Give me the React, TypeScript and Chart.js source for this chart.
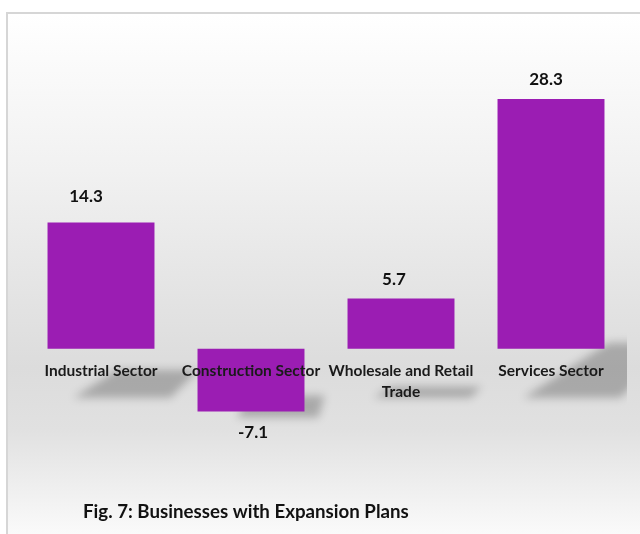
import React, { useEffect, useRef } from "react";
import { Chart, registerables } from "chart.js";

Chart.register(...registerables);

const categories: string[][] = [
  ["Industrial Sector"],
  ["Construction Sector"],
  ["Wholesale and Retail", "Trade"],
  ["Services Sector"],
];
const values: number[] = [14.3, -7.1, 5.7, 28.3];
const valueLabels: string[] = ["14.3", "-7.1", "5.7", "28.3"];
const chartTitle = "Fig. 7: Businesses with Expansion Plans";

const BAR_COLOR = "#9b1db3";
const FONT = "Lato, 'Noto Sans', sans-serif";

const decorPlugin = {
  id: "decor",
  beforeDraw(chart: any) {
    const ctx = chart.ctx as CanvasRenderingContext2D;
    const W = chart.width;
    const H = chart.height;
    ctx.save();
    ctx.fillStyle = "#ffffff";
    ctx.fillRect(0, 0, W, H);
    const g = ctx.createLinearGradient(0, 14, 0, H);
    g.addColorStop(0, "#ffffff");
    g.addColorStop(0.3, "#f1f1f1");
    g.addColorStop(0.68, "#dcdcdc");
    g.addColorStop(0.8, "#e1e1e1");
    g.addColorStop(1, "#fafafa");
    ctx.fillStyle = g;
    ctx.fillRect(7, 14, W - 7, H - 14);
    ctx.strokeStyle = "#d6d6d6";
    ctx.lineWidth = 2;
    ctx.beginPath();
    ctx.moveTo(7, H);
    ctx.lineTo(7, 13);
    ctx.lineTo(W, 13);
    ctx.stroke();
    ctx.restore();
  },
  beforeDatasetsDraw(chart: any) {
    const ctx = chart.ctx as CanvasRenderingContext2D;
    const meta = chart.getDatasetMeta(0);
    const zeroY = chart.scales.y.getPixelForValue(0);
    const area = chart.chartArea;
    ctx.save();
    ctx.beginPath();
    ctx.rect(8, 14, area.right + 1 - 8, chart.height - 14);
    ctx.clip();
    ctx.filter = "blur(4px)";
    ctx.fillStyle = "rgba(0,0,0,0.24)";
    meta.data.forEach((bar: any, i: number) => {
      const left = bar.x - bar.width / 2;
      const right = bar.x + bar.width / 2;
      const h = Math.abs(bar.base - bar.y);
      ctx.beginPath();
      if (values[i] >= 0) {
        const bottom = zeroY + 49;
        const sh = 0.22 * h;
        ctx.moveTo(left + 26, bottom);
        ctx.lineTo(right + 16, bottom);
        ctx.lineTo(right + 16 + sh, bottom - sh);
        ctx.lineTo(left + 26 + 1.55 * sh, bottom - sh);
      } else {
        const bb = Math.max(bar.y, bar.base);
        ctx.moveTo(left + 40, bb + 6);
        ctx.lineTo(right + 14, bb + 6);
        ctx.lineTo(right + 20, bb - 16);
        ctx.lineTo(left + 50, bb - 16);
      }
      ctx.closePath();
      ctx.fill();
    });
    ctx.restore();
  },
  afterDatasetsDraw(chart: any) {
    const ctx = chart.ctx as CanvasRenderingContext2D;
    const meta = chart.getDatasetMeta(0);
    const zeroY = chart.scales.y.getPixelForValue(0);
    ctx.save();
    ctx.textAlign = "center";
    ctx.textBaseline = "middle";
    // category labels at the zero line
    ctx.fillStyle = "#1a1a1a";
    ctx.font = `bold 15.5px ${FONT}`;
    meta.data.forEach((bar: any, i: number) => {
      categories[i].forEach((line, k) => {
        ctx.fillText(line, bar.x, zeroY + 22 + k * 21);
      });
    });
    // value labels
    const dx = [-15, 2, -7, -5];
    const dy = [-7, 0, 0, 0];
    ctx.fillStyle = "#111111";
    ctx.font = `bold 17px ${FONT}`;
    meta.data.forEach((bar: any, i: number) => {
      const y = values[i] >= 0 ? bar.y - 19 : bar.y + 21;
      ctx.fillText(valueLabels[i], bar.x + dx[i], y + dy[i]);
    });
    // caption
    ctx.textAlign = "left";
    ctx.fillStyle = "#111111";
    ctx.font = `bold 18.7px ${FONT}`;
    ctx.fillText(chartTitle, 83, 512);
    ctx.restore();
  },
};

export default function App() {
  const ref = useRef<HTMLCanvasElement | null>(null);
  useEffect(() => {
    document.body.style.margin = "0";
    if (!ref.current) return;
    const chart = new Chart(ref.current, {
      type: "bar",
      data: {
        labels: categories.map((c) => c.join(" ")),
        datasets: [
          {
            data: values,
            backgroundColor: BAR_COLOR,
            borderWidth: 0,
            categoryPercentage: 1,
            barPercentage: 0.713,
          },
        ],
      },
      options: {
        animation: false,
        responsive: false,
        maintainAspectRatio: false,
        layout: { padding: { left: 26, right: 14, top: 84, bottom: 97 } },
        plugins: {
          legend: { display: false },
          tooltip: { enabled: false },
          title: { display: false },
        },
        scales: {
          x: { display: false, grid: { display: false } },
          y: { display: false, min: -10, max: 30, grid: { display: false } },
        },
      },
      plugins: [decorPlugin],
    });
    return () => chart.destroy();
  }, []);
  return (
    <div style={{ position: "relative", width: 640, height: 534 }}>
      <canvas ref={ref} width={640} height={534} style={{ display: "block", width: 640, height: 534 }} />
    </div>
  );
}
